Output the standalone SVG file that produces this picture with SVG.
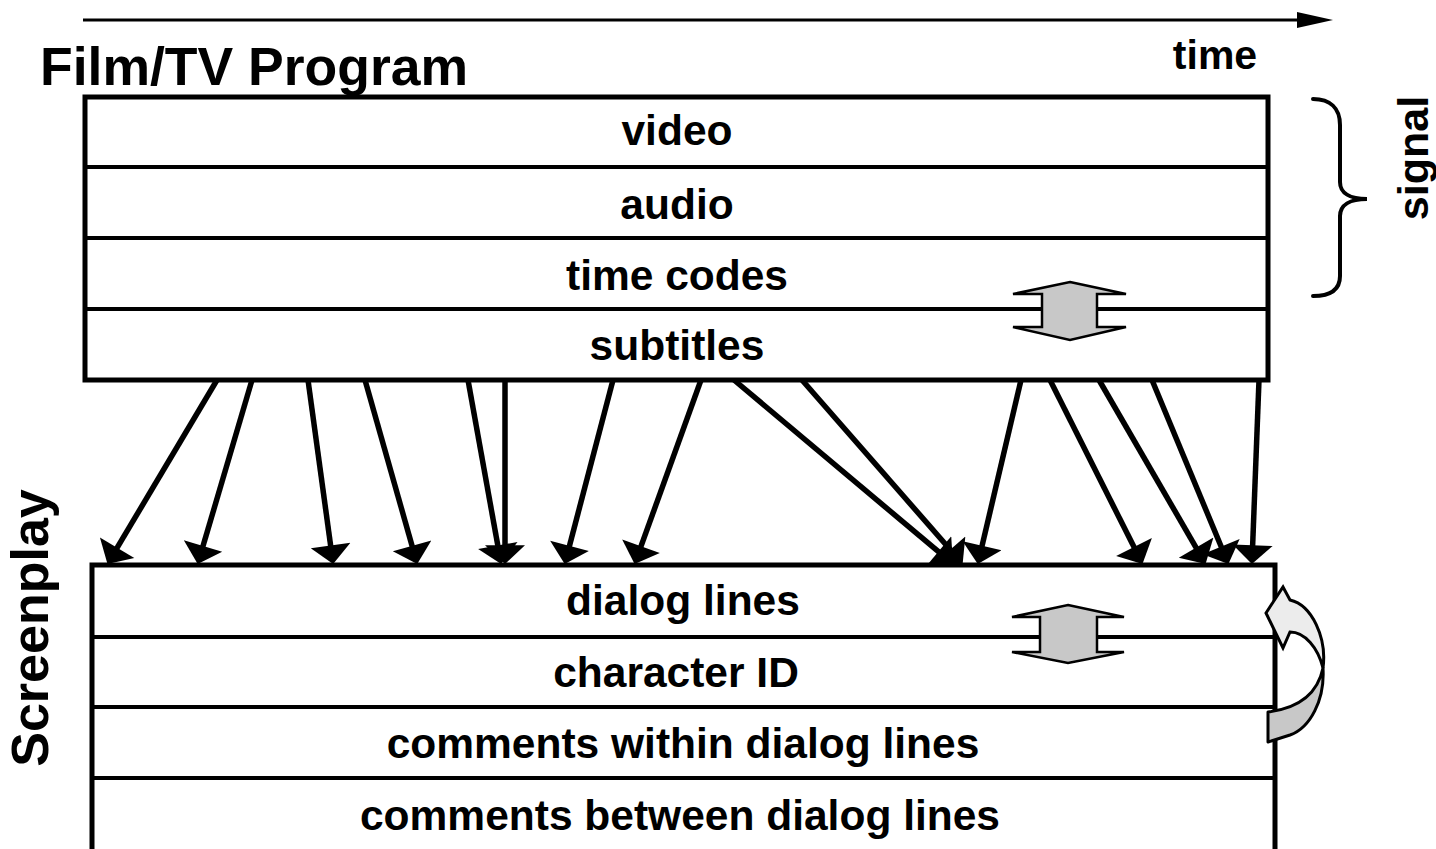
<svg xmlns="http://www.w3.org/2000/svg" width="1436" height="849" viewBox="0 0 1436 849">
<style>
.box{fill:#fff;stroke:#000;stroke-width:5}
.row{stroke:#000;stroke-width:4;fill:none}
.lbl{font-family:"Liberation Sans",Arial,sans-serif;font-weight:bold;font-size:42.5px;fill:#000;text-anchor:middle}
.title{font-family:"Liberation Sans",Arial,sans-serif;font-weight:bold;fill:#000}
.conn{stroke:#000;stroke-width:5.5;fill:none;marker-end:url(#ah)}
.dbl{fill:#c8c8c8;stroke:#000;stroke-width:2.5;stroke-linejoin:miter}
</style>
<defs>
<marker id="ah" markerUnits="userSpaceOnUse" markerWidth="40" markerHeight="40" viewBox="0 0 16 34" refX="10" refY="17" orient="auto">
<path d="M0,0 L16,17 L0,34 Z" fill="#000"/>
</marker>
</defs>
<rect width="1436" height="849" fill="#fff"/>

<g id="time-axis">
<line x1="83" y1="20" x2="1300" y2="20" stroke="#000" stroke-width="3"/>
<path d="M1297,12 L1333,20 L1297,28 Z" fill="#000"/>
<text class="title" x="1215" y="69" font-size="41" text-anchor="middle">time</text>
</g>

<g id="film-tv-program">
<text class="title" x="40" y="85" font-size="53.5">Film/TV Program</text>
<rect class="box" x="85" y="97" width="1183" height="283"/>
<line class="row" x1="85" y1="167" x2="1268" y2="167"/>
<line class="row" x1="85" y1="238" x2="1268" y2="238"/>
<line class="row" x1="85" y1="309" x2="1268" y2="309"/>
<text class="lbl" x="677" y="145">video</text>
<text class="lbl" x="677" y="219">audio</text>
<text class="lbl" x="677" y="290">time codes</text>
<text class="lbl" x="677" y="360">subtitles</text>
<path id="sync-top" class="dbl" d="M1070,282 L1126,294 L1097,294 L1097,327 L1126,327 L1070,340 L1013,327 L1042,327 L1042,294 L1013,294 Z"/>
</g>

<g id="signal-brace">
<path d="M1313,99 C1330,99 1340,108 1340,125 L1340,182 C1340,193 1350,199 1367,199 C1350,199 1340,205 1340,216 L1340,276 C1340,290 1330,296 1313,296" fill="none" stroke="#000" stroke-width="4" stroke-linecap="round"/>
<text class="title" font-size="43" text-anchor="middle" transform="translate(1428,158) rotate(-90)">signal</text>
</g>

<g id="screenplay">
<rect class="box" x="92" y="565" width="1183" height="300"/>
<line class="row" x1="92" y1="637" x2="1275" y2="637"/>
<line class="row" x1="92" y1="707" x2="1275" y2="707"/>
<line class="row" x1="92" y1="778" x2="1275" y2="778"/>
<text class="lbl" x="683" y="615">dialog lines</text>
<text class="lbl" x="676" y="687">character ID</text>
<text class="lbl" x="683" y="758">comments within dialog lines</text>
<text class="lbl" x="680" y="830">comments between dialog lines</text>
<path id="sync-bottom" class="dbl" d="M1068,605 L1124,617 L1097,617 L1097,652 L1124,652 L1068,663 L1012,652 L1040,652 L1040,617 L1012,617 Z"/>
<text class="title" font-size="52" text-anchor="middle" transform="translate(48,628) rotate(-90)">Screenplay</text>
</g>

<g id="self-loop">
<path d="M1268,712 C1300,708 1318,692 1323,668 C1325,700 1310,728 1290,735 L1268,742 Z" fill="#c8c8c8" stroke="#000" stroke-width="3" stroke-linejoin="round"/>
<path d="M1323,668 C1327,638 1312,605 1290,600 L1283,587 L1266,613 L1283,648 L1290,632 C1305,632 1318,648 1323,668 Z" fill="#ececec" stroke="#000" stroke-width="3" stroke-linejoin="miter"/>
</g>

<g id="connectors">
<line class="conn" x1="217" y1="380" x2="111.1" y2="557.9"/>
<line class="conn" x1="252" y1="380" x2="199.7" y2="557.3"/>
<line class="conn" x1="308" y1="380" x2="332.2" y2="557.1"/>
<line class="conn" x1="365" y1="380" x2="415.3" y2="557.2"/>
<line class="conn" x1="468" y1="380" x2="499.9" y2="557.1"/>
<line class="conn" x1="505" y1="380" x2="505" y2="557"/>
<line class="conn" x1="613" y1="380" x2="566.5" y2="557.2"/>
<line class="conn" x1="701" y1="380" x2="637" y2="557.4"/>
<line class="conn" x1="734" y1="380" x2="947.4" y2="559.2"/>
<line class="conn" x1="802" y1="380" x2="958" y2="558.5"/>
<line class="conn" x1="1021" y1="380" x2="979.4" y2="557.2"/>
<line class="conn" x1="1050" y1="380" x2="1139.3" y2="557.6"/>
<line class="conn" x1="1099" y1="380" x2="1202" y2="557.8"/>
<line class="conn" x1="1152" y1="380" x2="1225.7" y2="557.5"/>
<line class="conn" x1="1259" y1="380" x2="1252.2" y2="557"/>
</g>
</svg>
